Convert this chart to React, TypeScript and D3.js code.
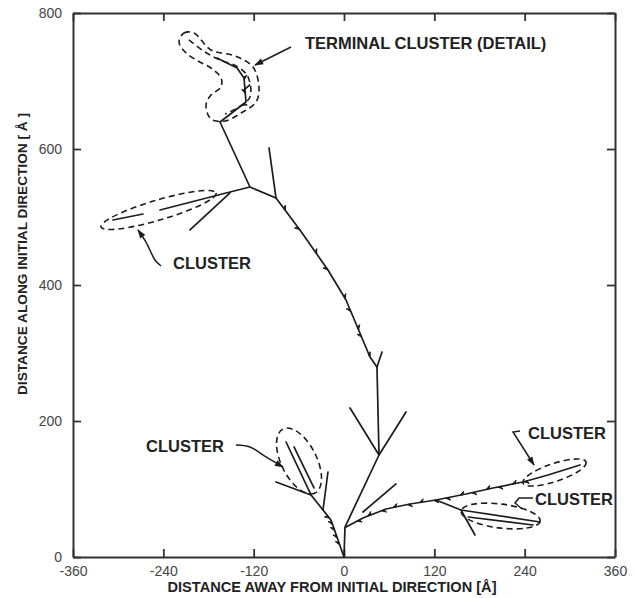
import { useEffect, useRef } from "react"
import * as d3 from "d3"

type Pt = [number, number]

const xTicks = [-360, -240, -120, 0, 120, 240, 360]
const yTicks = [0, 200, 400, 600, 800]

// track pieces, in angstrom: x = away from initial direction, y = along it
const leftStem: Pt[] = [[0, 0], [-17.3, 54.4], [-43.8, 91.2], [-77.0, 169.1]]
const leftSpur: Pt[] = [[-43.8, 91.2], [-90.3, 110.3]]
const leftInner: Pt[] = [[-39.9, 101.5], [-66.4, 161.8]]
const leftVertical: Pt[] = [[-27.9, 69.1], [-21.3, 125.0]]
const rightStem: Pt[] = [[0, 0], [1.3, 44.1], [46.5, 150.0], [82.4, 213.2]]
const forkLeft: Pt[] = [[46.5, 150.0], [8.0, 219.1]]
const smallBranch: Pt[] = [[25.2, 66.2], [69.1, 107.4]]
const stemLower: Pt[] = [[46.5, 150.0], [43.8, 279.4]]
const forkTop: Pt[] = [[43.8, 279.4], [50.5, 301.5]]
const stemUpper: Pt[] = [[43.8, 279.4], [34.5, 294.1], [2.7, 377.9], [-21.3, 422.0], [-58.5, 480.9], [-90.3, 527.9]]
const spurUp: Pt[] = [[-90.3, 527.9], [-99.6, 601.5]]
const stemTop: Pt[] = [[-90.3, 527.9], [-124.9, 544.1], [-164.7, 639.7]]
const clusterArm: Pt[] = [[-124.9, 544.1], [-156.7, 535.3], [-244.4, 510.3]]
const clusterFar: Pt[] = [[-267.0, 504.4], [-306.9, 495.6]]
const armDown: Pt[] = [[-151.4, 535.3], [-204.6, 480.9]]
const terminal: Pt[] = [[-164.7, 639.7], [-130.2, 669.1], [-132.8, 704.4], [-142.1, 719.1], [-168.7, 733.8]]
const terminalSpur: Pt[] = [[-132.8, 686.8], [-125.5, 694.1]]
const wiggle: Pt[] = [[2.7, 44.1], [25.2, 57.4], [55.8, 70.6], [87.7, 77.9], [122.2, 83.8], [162.1, 92.6], [197.9, 101.5], [237.8, 110.3], [271.0, 120.6], [313.5, 135.3]]
const lowRight: Pt[] = [[122.2, 83.8], [155.4, 69.1], [260.4, 51.5]]
const lowRightInner: Pt[] = [[165.0, 58.8], [251.1, 47.1]]
const lowRightDown: Pt[] = [[155.4, 69.1], [174.0, 32.4]]

const tracks = [leftStem, leftSpur, leftInner, leftVertical, rightStem, forkLeft, smallBranch, stemLower, forkTop,
  stemUpper, spurUp, stemTop, clusterArm, clusterFar, armDown, terminal, terminalSpur, wiggle, lowRight,
  lowRightInner, lowRightDown]

// small delta-ray barbs: fraction along a piece, side
const stemBarbs = [[0.06, 1], [0.17, -1], [0.21, 1], [0.31, -1], [0.38, 1], [0.55, -1], [0.65, 1], [0.8, -1], [0.92, 1]]
const leftBarbs = [[0.18, -1], [0.28, -1], [0.39, -1], [0.48, -1], [0.58, -1]]
const wiggleBarbs = [[0.05, 1], [0.1, -1], [0.16, 1], [0.21, -1], [0.27, 1], [0.32, -1], [0.38, 1], [0.43, 1], [0.49, -1],
  [0.54, 1], [0.6, -1], [0.65, 1], [0.71, -1], [0.76, 1]]
const terminalBarbs = [[0.3, 1], [0.45, -1], [0.6, 1]]

// dashed cluster envelopes: two ends and half-width, angstrom
const clusters = [
  { a: [-322.8, 485.3], b: [-170.0, 535.3], half: 14.7 },
  { a: [-81.0, 188.2], b: [-38.5, 94.1], half: 26.0 },
  { a: [237.8, 108.8], b: [321.5, 139.7], half: 13.2 },
  { a: [155.4, 67.6], b: [260.4, 52.9], half: 17.6 },
]

const terminalEnvelope: Pt[] = [[-219.2, 757.4], [-212.5, 770.6], [-199.3, 770.6], [-176.7, 745.6], [-144.8, 736.8],
  [-120.9, 720.6], [-112.9, 689.7], [-116.9, 669.1], [-136.8, 652.9], [-158.1, 641.2], [-176.7, 644.1],
  [-183.3, 664.7], [-176.7, 679.4], [-163.4, 691.2], [-163.4, 704.4], [-176.7, 719.1], [-193.9, 729.4],
  [-211.2, 742.6]]
const terminalInner: Pt[] = [[-205.9, 760.3], [-184.6, 742.6], [-164.7, 730.9], [-140.8, 720.6], [-127.5, 705.9],
  [-124.9, 676.5], [-139.5, 661.8], [-158.1, 651.5]]

const labels = [
  { text: "TERMINAL CLUSTER (DETAIL)", at: [-51.8, 755.9] },
  { text: "CLUSTER", at: [-227.2, 432.4] },
  { text: "CLUSTER", at: [-263.0, 163.2] },
  { text: "CLUSTER", at: [244.4, 182.4] },
  { text: "CLUSTER", at: [253.7, 85.3] },
]

const pointers = [
  { pts: [[-70.4, 750.0], [-118.2, 723.5]], head: true, curved: false },
  { pts: [[-243.1, 427.9], [-251.1, 436.8], [-263.0, 463.2], [-273.7, 480.9]], head: true, curved: true },
  { pts: [[-143.5, 164.7], [-124.9, 161.8], [-103.6, 147.1], [-81.0, 132.4]], head: true, curved: true },
  { pts: [[233.8, 185.3], [224.5, 183.8], [252.4, 135.3]], head: true, curved: false },
  { pts: [[251.1, 86.8], [232.5, 86.8], [227.2, 79.4], [236.5, 70.6]], head: false, curved: false },
]

export default function App() {
  const svgRef = useRef<SVGSVGElement>(null)

  useEffect(() => {
    if (!svgRef.current) return
    const svg = d3.select(svgRef.current)
    svg.selectAll("*").remove()

    const x = d3.scaleLinear().domain([-360, 360]).range([73, 615])
    const y = d3.scaleLinear().domain([0, 800]).range([557, 13])
    const ink = "#1c1c1c"
    const font = "'Liberation Sans', Arial, Helvetica, sans-serif"

    svg.append("rect").attr("width", 635).attr("height", 598).attr("fill", "#fff")

    svg.append("defs").append("marker")
      .attr("id", "head")
      .attr("viewBox", "0 0 10 10")
      .attr("refX", 9)
      .attr("refY", 5)
      .attr("markerWidth", 8)
      .attr("markerHeight", 6)
      .attr("orient", "auto")
      .append("path")
      .attr("d", "M0,1.5L10,5L0,8.5z")
      .attr("fill", ink)

    const styleAxis = (g: any) => {
      g.select(".domain").attr("stroke", "#333").attr("stroke-width", 2)
      g.selectAll(".tick line").attr("stroke", "#333").attr("stroke-width", 1.8)
      g.selectAll("text").attr("font-family", font).attr("font-size", 14).attr("fill", "#444")
    }

    svg.append("g").attr("transform", "translate(0,557)")
      .call(d3.axisBottom(x).tickValues(xTicks).tickSize(-8).tickSizeOuter(0).tickPadding(9).tickFormat((d) => String(d)))
      .call(styleAxis)
    svg.append("g").attr("transform", "translate(0,13)")
      .call(d3.axisTop(x).tickValues(xTicks).tickSize(-8).tickSizeOuter(0).tickFormat(() => ""))
      .call(styleAxis)
    svg.append("g").attr("transform", "translate(73,0)")
      .call(d3.axisLeft(y).tickValues(yTicks).tickSize(-8).tickSizeOuter(0).tickPadding(11).tickFormat((d) => String(d)))
      .call(styleAxis)
    svg.append("g").attr("transform", "translate(615,0)")
      .call(d3.axisRight(y).tickValues(yTicks).tickSize(-8).tickSizeOuter(0).tickFormat(() => ""))
      .call(styleAxis)

    svg.append("text")
      .attr("x", 332).attr("y", 592)
      .attr("text-anchor", "middle")
      .attr("font-family", font).attr("font-weight", "bold").attr("font-size", 14)
      .attr("textLength", 329).attr("lengthAdjust", "spacingAndGlyphs")
      .attr("fill", "#222")
      .text("DISTANCE AWAY FROM INITIAL DIRECTION  [Å]")

    svg.append("text")
      .attr("transform", "translate(27,254) rotate(-90)")
      .attr("text-anchor", "middle")
      .attr("font-family", font).attr("font-weight", "bold").attr("font-size", 13)
      .attr("textLength", 282).attr("lengthAdjust", "spacingAndGlyphs")
      .attr("fill", "#222")
      .text("DISTANCE ALONG INITIAL DIRECTION [ Å ]")

    const line = d3.line<Pt>().x((d) => x(d[0])).y((d) => y(d[1]))

    svg.append("g").selectAll("path")
      .data(tracks)
      .enter()
      .append("path")
      .attr("d", (d) => line(d))
      .attr("fill", "none")
      .attr("stroke", ink)
      .attr("stroke-width", 1.7)
      .attr("stroke-linejoin", "round")
      .attr("stroke-linecap", "round")

    // point + direction at a fraction of a piece's drawn length
    const along = (pts: Pt[], t: number) => {
      const px = pts.map((p) => [x(p[0]), y(p[1])])
      const lens = px.slice(1).map((p, i) => Math.hypot(p[0] - px[i][0], p[1] - px[i][1]))
      let rest = t * d3.sum(lens)
      for (let i = 0; i < lens.length; i++) {
        if (rest <= lens[i] || i === lens.length - 1) {
          const f = rest / lens[i]
          const dx = (px[i + 1][0] - px[i][0]) / lens[i]
          const dy = (px[i + 1][1] - px[i][1]) / lens[i]
          return { p: [px[i][0] + dx * lens[i] * f, px[i][1] + dy * lens[i] * f], d: [dx, dy] }
        }
        rest -= lens[i]
      }
      return { p: px[0], d: [1, 0] }
    }

    const barbs = svg.append("g")
    const drawBarbs = (pts: Pt[], list: number[][]) => {
      list.forEach(([t, side]) => {
        const { p, d } = along(pts, t)
        const a = (side * 35 * Math.PI) / 180
        const bx = d[0] * Math.cos(a) - d[1] * Math.sin(a)
        const by = d[0] * Math.sin(a) + d[1] * Math.cos(a)
        barbs.append("path")
          .attr("d", `M${p[0]},${p[1]}L${p[0] + bx * 5.5},${p[1] + by * 5.5}L${p[0] + d[0] * 3},${p[1] + d[1] * 3}Z`)
          .attr("fill", ink)
          .attr("stroke", ink)
          .attr("stroke-width", 1)
          .attr("stroke-linejoin", "round")
      })
    }
    drawBarbs(stemUpper, stemBarbs)
    drawBarbs(leftStem.slice(0, 3), leftBarbs)
    drawBarbs(wiggle, wiggleBarbs)
    drawBarbs(terminal, terminalBarbs)

    const dash = "6,4"
    const sy = y(0) - y(1)
    svg.append("g").selectAll("ellipse")
      .data(clusters)
      .enter()
      .append("ellipse")
      .each(function (c) {
        const ax = x(c.a[0]), ay = y(c.a[1]), bx = x(c.b[0]), by = y(c.b[1])
        const ang = (Math.atan2(by - ay, bx - ax) * 180) / Math.PI
        d3.select(this)
          .attr("cx", 0).attr("cy", 0)
          .attr("rx", Math.hypot(bx - ax, by - ay) / 2)
          .attr("ry", c.half * sy)
          .attr("transform", `translate(${(ax + bx) / 2},${(ay + by) / 2}) rotate(${ang})`)
      })
      .attr("fill", "none")
      .attr("stroke", ink)
      .attr("stroke-width", 1.6)
      .attr("stroke-dasharray", dash)

    svg.append("path")
      .attr("d", line.curve(d3.curveCatmullRomClosed)(terminalEnvelope))
      .attr("fill", "none")
      .attr("stroke", ink)
      .attr("stroke-width", 1.6)
      .attr("stroke-dasharray", dash)
    svg.append("path")
      .attr("d", line.curve(d3.curveCatmullRom)(terminalInner))
      .attr("fill", "none")
      .attr("stroke", ink)
      .attr("stroke-width", 1.6)
      .attr("stroke-dasharray", dash)

    pointers.forEach((ptr) => {
      const path = d3.line<number[]>()
        .x((d) => x(d[0]))
        .y((d) => y(d[1]))
        .curve(ptr.curved ? d3.curveCatmullRom : d3.curveLinear)
      svg.append("path")
        .attr("d", path(ptr.pts))
        .attr("fill", "none")
        .attr("stroke", ink)
        .attr("stroke-width", 1.5)
        .attr("marker-end", ptr.head ? "url(#head)" : null)
    })

    svg.append("g").selectAll("text")
      .data(labels)
      .enter()
      .append("text")
      .attr("x", (d) => x(d.at[0]))
      .attr("y", (d) => y(d.at[1]))
      .attr("dy", "0.36em")
      .attr("font-family", font)
      .attr("font-weight", "bold")
      .attr("font-size", 16.5)
      .attr("fill", "#222")
      .text((d) => d.text)
  }, [])

  return (
    <svg
      ref={svgRef}
      width={635}
      height={598}
      style={{ position: "absolute", left: 0, top: 0, display: "block" }}
    />
  )
}
